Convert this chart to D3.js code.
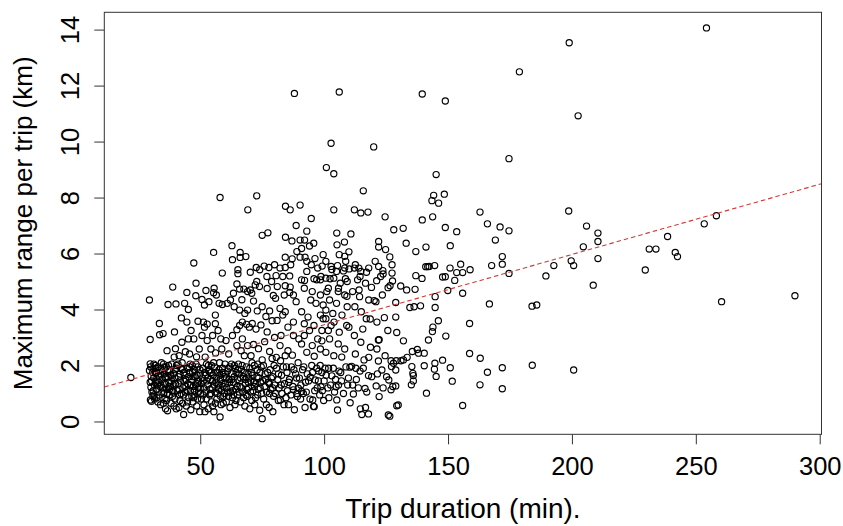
<!DOCTYPE html>
<html>
<head>
<meta charset="utf-8">
<script src="https://cdn.jsdelivr.net/npm/d3@7"></script>
<style>
  body { margin: 0; background: #fff; }
  svg { display: block; }
</style>
</head>
<body>
<div id="chart"></div>
<script>
// Trips as [duration (min), maximum range (km)]
const shortTrips = [
    [22,1.57],[29.5,4.34],[29.8,2.93],[29.8,2.06],[30,1.95],[29.5,1.82],[30.2,1.62],[29.8,1.4],[30.1,1.22],[29.9,0.77],[30.3,0.72],[30.5,1.05],
    [31,1.88],[31.2,1.55],[31.5,1.3],[31.4,0.95],[31.8,2.0],[32,1.72],[32.3,1.15],[32.5,0.85],[32.6,1.45],[33,1.95],[33.2,1.62],[33.5,3.5],[33.6,3.1],[33.8,1.25],[34,0.6],[34.2,1.85],[34.5,1.05],[34.6,1.5],[35,3.14],[35.2,2.05],[35.4,1.7],[35.6,1.35],[35.8,0.82],[36,0.45],[36.3,1.95],[36.5,1.15],[36.6,2.53],[36.8,0.38],[37,4.18],[37,1.6],[37.3,1.4],[37.5,0.95],[37.8,1.8],[38,1.25],[38.2,0.65],[38.5,2.05],[38.6,1.55],[38.9,4.8],[39,1.05],[39.2,1.7],[39.5,2.3],[39.6,3.2],[39.8,0.8],[40,2.6],[40.2,4.2],[40,1.35],[40.3,0.45],[40.5,1.9],
    [30.8,1.75],[31,1.1],[31.6,0.8],[32.1,1.9],[32.8,1.3],[33.4,0.95],[33.9,1.7],[34.3,2.1],[34.8,1.2],[35.1,0.65],[35.5,1.95],[36.1,1.6],[36.7,1.0],[37.2,2.0],[37.6,1.15],[38.3,1.45],[38.8,0.9],[39.3,1.3],[39.9,1.85],
    [30.4,1.45],[30.9,0.9],[31.3,2.05],[31.9,1.4],[32.4,1.75],[32.9,0.7],[33.3,1.4],[34.1,1.3],[34.7,1.8],[35.3,1.0],[35.9,1.55],[36.4,0.75],[36.9,1.85],[37.4,1.25],[38.1,1.65],[38.7,1.1],[39.4,0.55],[39.7,1.55],
    [41,2.05],[41.2,1.6],[41.5,1.15],[41.5,2.35],[41.8,0.75],[42,1.45],[42.4,3.7],[42.6,2.83],[42.8,1.85],[43,1.2],[43.2,0.95],[43.3,0.25],[43.7,4.22],[43.8,1.65],[44,2.49],[44,1.05],[44.4,0.55],[44.6,3.55],[44.6,4.61],[44.8,1.9],[45,1.35],[45.2,4.0],[45.2,2.95],[45.4,0.85],[45.7,2.41],[45.8,1.75],[46,1.1],[46.2,0.42],[46.3,3.25],[46.5,1.5],[46.8,2.0],[47,0.7],[47.2,1.25],[47.4,5.66],[47.4,2.95],[47.5,1.85],[47.8,0.95],[48,1.6],[48.2,4.49],[48.3,4.94],[48.5,2.31],[48.6,0.55],[48.8,1.35],[49,1.95],[49.1,3.58],[49.3,1.05],[49.6,2.59],[49.8,0.35],[50,1.7],[50,1.2],
    [40.7,1.1],[41.4,0.5],[41.9,1.7],[42.3,1.0],[42.7,2.1],[43.5,1.45],[44.2,1.25],[44.9,0.7],[45.3,1.6],[45.9,2.05],[46.6,0.9],[47.1,1.6],[47.7,1.1],[48.3,2.05],[48.9,0.8],[49.4,1.45],
    [40.4,2.0],[41.1,1.35],[41.7,0.95],[42.2,1.9],[42.9,0.65],[43.4,1.75],[44.1,1.5],[44.7,1.1],[45.6,1.95],[46.1,1.3],[46.9,1.75],[47.4,0.85],[48.1,1.3],[48.7,1.65],[49.2,1.2],[49.9,1.85],
    [50.5,0.8],[50.7,4.36],[50.7,3.07],[51,1.9],[51.2,1.45],[51.3,3.55],[51.5,0.6],[51.7,4.16],[51.7,3.37],[52,2.3],[52.1,1.65],[52.3,4.68],[52.3,1.05],[52.5,2.05],[52.8,3.48],[52.8,2.89],[53,1.3],[53.2,0.45],[53.4,1.8],[53.5,4.28],[53.8,0.95],[54,1.5],[54.3,2.59],[54.5,2.0],[54.6,0.7],[54.8,1.2],[55,3.07],[55.2,1.65],[55.4,6.04],[55.6,4.76],[55.4,4.6],[55.5,0.35],[55.8,1.95],[56,1.05],[56.1,3.8],[56.1,3.49],[56.2,2.45],[56.4,1.4],[56.5,4.52],[56.7,0.8],[57,1.75],[57.2,3.25],[57.4,1.15],[57.6,4.22],[57.8,2.1],[58,0.16],[58,8.0],[58.1,1.5],[58.3,2.95],[58.4,0.6],[58.7,2.59],[58.9,4.18],[58.9,5.3],[59,1.9],[59.2,1.25],[59.5,0.9],[59.6,1.6],[60,2.05],
    [50.2,1.0],[50.8,1.55],[51.4,1.2],[51.9,0.35],[52.6,1.45],[53.3,2.0],[53.9,1.15],[54.4,1.75],[55,0.55],[55.7,1.3],[56.3,1.75],[56.9,1.0],[57.6,1.85],[58.2,0.9],[58.8,1.35],[59.3,0.65],
    [50.4,1.35],[51.1,0.95],[51.8,1.75],[52.4,0.8],[53.1,1.55],[53.7,1.85],[54.2,1.0],[54.9,1.45],[55.4,2.1],[56.1,0.65],[56.6,1.55],[57.3,1.3],[57.9,1.65],[58.6,1.1],[59.1,1.75],[59.8,1.0],
    [60.2,1.35],[60.4,2.89],[60.5,0.7],[60.9,4.22],[61,1.8],[61.2,1.05],[61.5,2.41],[61.6,1.5],[62,0.5],[62,1.95],[62.2,4.34],[62.4,1.2],[62.8,6.28],[62.8,1.7],[63,3.07],[63,0.85],[63,5.78],[63.4,1.4],[63.4,4.58],[63.7,4.1],[63.8,2.0],[64,0.6],[64.3,1.15],[64.5,1.75],[64.8,4.91],[64.8,3.28],[64.8,2.71],[65,0.95],[65,1.5],[65.2,5.42],[65.2,5.28],[65.4,2.05],[65.9,4.73],[65.9,3.98],[65.9,3.43],[66,1.25],[66.1,5.86],[66.1,6.04],[66.3,0.7],[66.5,2.53],[66.6,1.85],[66.8,4.35],[67,3.55],[67,2.95],[67.2,1.05],[67.4,1.6],[67.6,4.73],[67.8,2.35],[68,0.55],[68,3.86],[68.2,1.35],[68.4,5.89],[68.6,1.95],[68.7,3.47],[69,0.9],[69.1,4.64],[69.1,3.98],[69.1,2.71],[69.2,7.56],[69.3,1.7],[69.5,1.2],[69.8,3.37],[70,0.45],[70,1.9],
    [60.1,1.7],[60.7,1.2],[61.4,0.9],[61.9,1.4],[62.6,2.05],[63.1,1.1],[63.7,1.6],[64.4,0.75],[65.2,1.85],[65.7,1.05],[66.3,1.55],[66.9,2.0],[67.5,0.85],[68.1,1.5],[68.8,1.15],[69.6,1.55],
    [60.6,1.55],[61.3,1.9],[62.1,1.05],[62.7,1.5],[63.5,0.95],[64.2,1.9],[64.9,1.25],[65.6,1.7],[66.7,1.2],[67.7,1.75],[68.5,0.95],[69.4,1.4],
    [70.2,5.33],[70.2,4.7],[70.4,1.45],[70.5,2.35],[70.8,4.58],[70.8,0.75],[71,3.5],[71,1.65],[71.3,1.1],[71.5,4.3],[71.5,2.75],[71.8,2.0],[72,0.6],[72.2,4.88],[72.4,1.35],[72.5,3.3],[72.6,5.5],[72.8,8.06],[72.8,5.0],[73,1.85],[73,3.95],[73.2,0.95],[73.5,2.6],[73.6,1.55],[73.9,4.82],[74,0.4],[74,5.42],[74.2,1.2],[74.5,3.45],[74.6,1.95],[75,6.65],[75,0.1],[75,4.1],[75,2.2],[75.3,1.45],[75.6,0.8],[75.8,5.55],[76,2.85],[76.2,1.7],[76.5,3.75],[76.8,1.05],[76.9,5.18],[77,3.2],[77,4.75],[77.3,6.74],[77.5,1.4],[77.7,5.5],[77.8,0.5],[78,3.95],[78,2.5],[78.2,1.85],[78.5,1.15],[78.8,5.0],[79,3.6],[79,2.25],[79.3,0.35],[79.3,1.6],[79.5,4.5],[79.6,0.9],[80,5.6],[80,3.0],[80,1.3],
    [70.3,1.05],[70.9,2.1],[71.6,1.4],[72.3,0.85],[72.9,1.6],[73.4,1.15],[74.1,1.75],[74.8,1.0],[75.5,2.0],[76.1,1.25],[76.7,0.6],[77.2,1.75],[78,1.0],[78.7,1.55],[79.2,1.2],[79.8,2.0],
    [70.6,1.75],[71.9,1.25],[73.2,2.05],[74.4,1.4],[76.4,1.5],[77.9,1.35]
];

const midTrips = [
    [80.4,4.4],[80.6,5.21],[80.7,2.29],[80.8,1.9],[81,3.61],[81.1,4.82],[81.3,1.5],[81.5,0.75],[81.8,1.2],[82.2,5.48],[82.2,4.04],[82.2,2.71],[82.3,0.77],[82.4,2.17],[82.6,3.07],[82.8,1.65],[83,1.0],[83.3,5.18],[83.3,3.8],[83.5,1.95],[83.9,4.52],[84,1.35],[84.4,7.69],[84.4,6.58],[84.3,5.87],[84.3,5.5],[84.3,4.85],[84.3,3.92],[84.3,2.35],[84.6,0.85],[85,1.75],[85.2,1.1],[85.4,3.37],[85.4,2.53],[85.6,0.6],[86,1.5],[86.1,4.61],[86.1,5.2],[86.3,7.56],[86.3,4.8],[86.5,5.6],[86.8,1.95],[87,6.45],[87.1,5.81],[87.2,2.37],[87.4,1.25],[87.6,4.52],[87.6,3.55],[87.6,3.07],[87.6,1.13],[88,11.72],[88,0.42],[88.5,1.7],[88.7,4.28],[88.7,7.0],[89,6.07],[89,1.0],[89.2,0.89],[89.6,1.19],[89.8,2.95],[90,1.55],
    [80.3,1.0],[81.6,1.7],[82.7,1.3],[83.8,0.6],[84.8,1.95],[85.7,1.4],[86.6,0.95],[87.8,1.85],[88.9,1.55],[89.5,2.1],
    [90.3,7.73],[90.3,6.48],[90.3,5.87],[90.5,0.8],[90.9,6.18],[90.9,5.06],[90.9,3.92],[90.9,2.77],[90.9,1.07],[91.3,1.85],[91.6,1.0],[92,4.76],[92,3.49],[92,3.07],[92.1,6.48],[92.1,5.04],[92.3,5.87],[92.3,0.5],[92.5,1.4],[93,6.8],[93,5.72],[93,5.36],[93,2.47],[93.2,1.7],[93.5,3.73],[94.1,6.27],[94.1,3.25],[94.4,1.58],[94.6,4.34],[94.8,7.25],[94.8,5.6],[95,2.0],[95.2,4.64],[95.2,2.71],[95.4,0.77],[95.7,0.54],[95.8,6.37],[95.9,5.1],[95.9,3.43],[96,2.33],[96,0.53],[96.3,5.82],[96.4,1.48],[96.7,4.22],[97,5.06],[97.2,1.2],[97.4,5.48],[97.4,2.95],[97.8,1.8],[98.2,0.95],[98.5,5.06],[98.5,4.52],[98.5,3.8],[98.5,2.59],[98.7,1.24],[98.7,5.18],[99.1,3.25],[99.1,2.88],[99.1,1.75],[99.2,5.55],[99.6,5.96],[99.6,4.16],[99.6,3.67],[100,1.45],
    [90.6,1.3],[91.8,1.95],[92.8,1.05],[93.7,1.45],[94.3,0.8],[95.3,1.75],[96.2,1.1],[97,1.9],[97.7,1.45],[98.4,2.0],[99.3,1.1],[99.8,0.75],
    [100.4,1.9],[100.7,5.72],[100.7,5.12],[100.7,3.98],[100.7,3.67],[100.7,2.47],[100.9,9.07],[101.1,4.64],[101.5,1.2],[101.7,4.76],[101.7,3.25],[101.9,0.85],[102.2,4.34],[102.2,2.95],[102.4,5.1],[102.8,9.94],[102.8,5.54],[102.8,3.43],[103.1,1.63],[103.1,5.43],[103.5,3.86],[103.9,8.85],[103.9,7.56],[103.9,5.12],[103.9,2.35],[104,3.55],[104.2,1.05],[104.8,1.24],[105,5.36],[105,4.22],[105.1,6.73],[105.1,0.77],[105.2,6.31],[105.4,5.57],[105.4,0.41],[105.7,4.64],[105.7,2.77],[105.8,4.76],[106,1.8],[106.1,11.77],[106.1,5.96],[106.1,3.19],[106.5,4.94],[107,1.45],[107.1,2.3],[107.2,3.8],[107.8,5.38],[108.2,6.41],[108.3,5.9],[108.3,5.48],[108.3,4.52],[108.3,2.59],[108.6,5.1],[108.7,5.72],[109.1,3.43],[109.2,4.47],[109.3,5.0],[109.3,4.1],[109.5,1.3],[110,6.06],[110,3.37],[110.1,5.45],[110.4,1.94],[110.5,0.67],
    [100.8,1.65],[101.8,1.9],[102.6,1.3],[103.7,1.9],[104.6,1.5],[105.8,1.3],[106.7,1.75],[107.8,1.0],[108.8,1.95],[109.8,1.55],
    [110.8,6.7],[111.1,1.97],[111.5,4.64],[111.8,0.98],[112.2,7.56],[112.2,5.48],[112.2,3.07],[112.4,4.1],[112.6,5.6],[112.6,2.41],[113,1.5],[113.5,5.06],[114,5.48],[114.1,4.7],[114.3,4.46],[114.5,5.18],[114.5,1.8],[114.6,0.45],[114.8,7.45],[114.8,5.36],[114.8,2.83],[115,3.92],[115.2,0.25],[115.6,3.3],[115.8,8.24],[116.1,2.2],[116.5,1.18],[116.7,4.94],[116.7,0.5],[117,3.67],[117.1,5.33],[117.7,7.48],[117.9,1.64],[117.9,0.27],[118,5.48],[118,4.34],[118,2.29],[118.6,3.66],[118.7,2.65],[119.1,4.79],[120,9.81],[120.2,4.32],
    [111.5,1.3],[112.8,1.9],[113.8,1.2],[115.8,1.9],[117.2,1.05],[119.2,1.6],
    [120.6,5.72],[120.9,4.28],[121,1.27],[121.2,5.03],[121.3,3.55],[121.3,2.59],[121.9,2.91],[121.9,2.16],[122,6.43],[122,6.23],[122,5.54],[122.2,0.89],[122.2,2.92],[122.8,5.18],[123.3,1.84],[123.5,4.52],[123.7,5.39],[123.8,5.27],[124.3,3.71],[124.6,7.31],[124.6,2.35],[124.8,6.14],[125.2,1.6],[125.7,3.25],[125.8,4.78],[125.9,0.23],[126.1,1.48],[126.5,5.88],[126.5,0.19],[126.6,4.85],[127,2.17],[127,1.13],[127.2,1.96],[127.4,5.6],[127.4,5.3],[127.6,5.02],[127.7,1.25],[128,2.08],[128.1,6.85],[128.9,4.25],[128.9,3.73],[128.9,1.84],[128.9,1.27],[129.1,2.17],[129.3,3.18],[129.3,0.56],[129.9,0.59],
    [121.5,1.7],[123.8,1.2],
    [130.9,4.84],[131,2.17],[131.9,6.9],[132,2.88],[132,2.2],[133.1,6.37],[133.3,4.7],[133.5,2.29],[134.6,4.07],[135.2,1.31],[135.4,1.96],[135.6,2.5],[135.8,1.72],[136,1.64],[136,1.45],[136.3,4.1],[136.7,4.72],[137,6.07],[137,5.21],[137.6,2.57],[138.1,2.44],[138.9,4.13],[139.5,5.11],[139.6,7.2],[139.6,11.7],
    [140.4,2.44],[140.4,1.99],[141.1,6.23],[141,5.53],[141.3,1.01],[141.8,5.53],[142.1,2.91],[142.4,5.54],[143.5,7.89],[143.7,3.21],[143.8,7.31],[143.9,3.37],[144.2,8.08],[144.5,1.87],[144.6,5.57],[144.7,2.08],[144.8,4.46],[144.8,4.07],[145.2,8.82],[145.2,1.61],[146.1,3.6],[146.2,7.8],[147.8,5.16],[147.8,2.19],[148.5,8.12],[148.9,11.45],[148.9,6.93],[148.9,5.17],[149.1,3.05],[149.9,4.68]
];

const longTrips = [
    [150.8,5.48],[150.9,6.28],[150.9,1.92],[151.7,1.44],[152.7,5.04],[153.5,6.78],[153.5,5.32],[155.1,5.62],[155.9,5.32],[155.9,4.58],[155.9,0.57],[158.7,3.5],[158.7,2.43],[158.9,5.42],[162.9,7.48],[163,2.26],[162.9,1.31],[165.9,7.06],[165.9,1.76],[166.7,4.2],[167.6,5.57],[169.1,6.48],[171,6.95],[171.9,5.89],[171.9,5.62],[171.9,1.92],[171.9,1.17],[174.6,6.81],[174.6,5.29],[174.6,9.39],[178.8,12.49],[184,2.01],[183.9,4.12],[185.8,4.16],[189.5,5.2],[192.7,5.57],[198.9,13.53],[198.7,7.52],[199.7,5.74],[200.7,5.57],[200.7,1.84],[202.5,10.92],[204.6,6.24],[205.9,6.98],[208.6,4.87],[210.5,6.73],[210.5,6.43],[210.5,5.82],[229.6,5.41],[231.2,6.16],[233.9,6.16],[238.6,6.61],[241.7,6.04],[242.6,5.89],[253.4,7.06],[254.3,14.06],[258.3,7.35],[260.4,4.28],[290,4.49]
];

// Fitted line (abline of the linear model): range = intercept + slope * duration
const fitIntercept = 0.946;
const fitSlope = 0.0251;

const xTicks = [50, 100, 150, 200, 250, 300];
const yTicks = [0, 2, 4, 6, 8, 10, 12, 14];

const width = 843;
const height = 526;
const box = { left: 104.3, right: 821.5, top: 12.3, bottom: 434.3 };
const fontFamily = "'Liberation Sans', Arial, Helvetica, sans-serif";
const axisColor = "#333";

const allTrips = shortTrips.concat(midTrips, longTrips);

// R style limits: data range widened by 4% on each side
function padded(ext) {
    const d = ext[1] - ext[0];
    return [ext[0] - 0.04 * d, ext[1] + 0.04 * d];
}

const xScale = d3.scaleLinear()
    .domain(padded(d3.extent(allTrips, (d) => d[0])))
    .range([box.left, box.right]);

const yScale = d3.scaleLinear()
    .domain(padded(d3.extent(allTrips, (d) => d[1])))
    .range([box.bottom, box.top]);

const svg = d3.select("#chart")
    .append("svg")
    .attr("width", width)
    .attr("height", height);

svg.append("defs")
    .append("clipPath")
    .attr("id", "plot-clip")
    .append("rect")
    .attr("x", box.left)
    .attr("y", box.top)
    .attr("width", box.right - box.left)
    .attr("height", box.bottom - box.top);

// Points (open circles, pch = 1)
svg.append("g")
    .selectAll("circle")
    .data(allTrips)
    .join("circle")
    .attr("cx", (d) => xScale(d[0]))
    .attr("cy", (d) => yScale(d[1]))
    .attr("r", 3.1)
    .attr("fill", "none")
    .attr("stroke", "#000")
    .attr("stroke-width", 1.15);

// Regression line, clipped to the plot box
const [x0, x1] = xScale.domain();
svg.append("line")
    .attr("clip-path", "url(#plot-clip)")
    .attr("x1", xScale(x0))
    .attr("y1", yScale(fitIntercept + fitSlope * x0))
    .attr("x2", xScale(x1))
    .attr("y2", yScale(fitIntercept + fitSlope * x1))
    .attr("stroke", "#d03a3a")
    .attr("stroke-width", 1.1)
    .attr("stroke-dasharray", "4.5,3");

// Box around the plot
svg.append("rect")
    .attr("x", box.left)
    .attr("y", box.top)
    .attr("width", box.right - box.left)
    .attr("height", box.bottom - box.top)
    .attr("fill", "none")
    .attr("stroke", axisColor)
    .attr("stroke-width", 1);

// X axis
svg.append("g")
    .attr("transform", `translate(0,${box.bottom})`)
    .call(d3.axisBottom(xScale).tickValues(xTicks).tickSize(10).tickSizeOuter(0))
    .call((g) => g.select(".domain").remove())
    .attr("font-family", fontFamily)
    .attr("font-size", 25.5)
    .call((g) => g.selectAll(".tick line").attr("stroke", axisColor))
    .call((g) => g.selectAll(".tick text")
        .attr("fill", "#000")
        .attr("y", 40.7)
        .attr("dy", null));

// Y axis, labels turned like R does (las = 0)
svg.append("g")
    .attr("transform", `translate(${box.left},0)`)
    .call(d3.axisLeft(yScale).tickValues(yTicks).tickSize(10).tickSizeOuter(0))
    .call((g) => g.select(".domain").remove())
    .attr("font-family", fontFamily)
    .attr("font-size", 25.5)
    .call((g) => g.selectAll(".tick line").attr("stroke", axisColor))
    .call((g) => g.selectAll(".tick text")
        .attr("fill", "#000")
        .attr("x", null)
        .attr("dy", null)
        .attr("text-anchor", "middle")
        .attr("transform", `translate(${79 - box.left},0) rotate(-90)`));

// Axis titles
svg.append("text")
    .attr("x", (box.left + box.right) / 2)
    .attr("y", 518)
    .attr("text-anchor", "middle")
    .attr("font-family", fontFamily)
    .attr("font-size", 28)
    .text("Trip duration (min).");

svg.append("text")
    .attr("transform", `translate(32,${(box.top + box.bottom) / 2}) rotate(-90)`)
    .attr("text-anchor", "middle")
    .attr("font-family", fontFamily)
    .attr("font-size", 26)
    .text("Maximum range per trip (km)");
</script>
</body>
</html>
